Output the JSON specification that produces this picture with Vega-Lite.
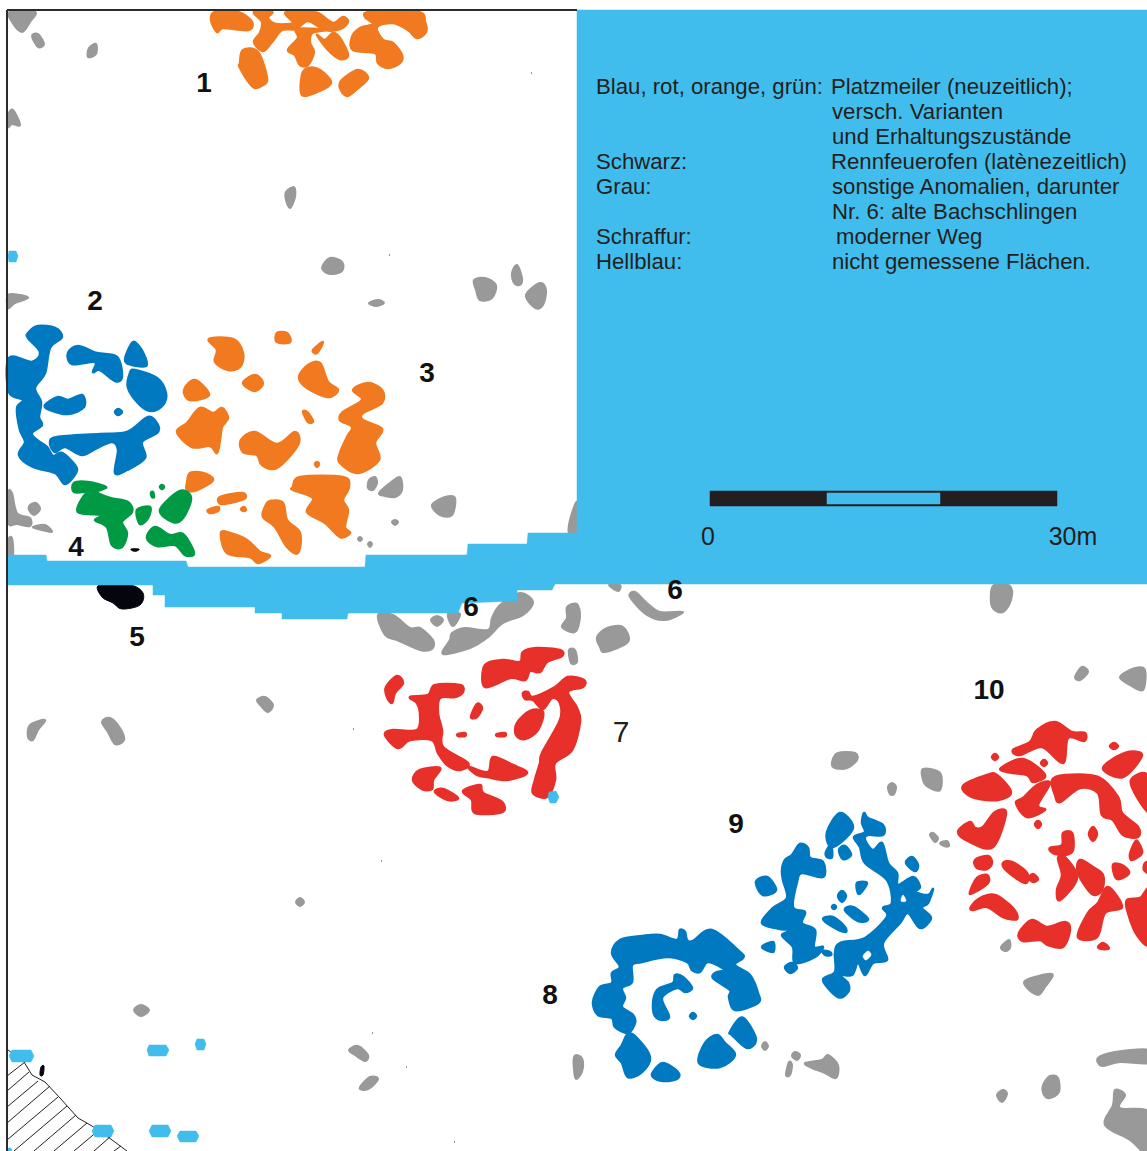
{"$schema":"https://vega.github.io/schema/vega-lite/v6.json","width":1147,"height":1151,"padding":0,"autosize":{"type":"none"},"background":"white","config":{"view":{"stroke":null}},
"encoding":{"x":{"field":"x","type":"quantitative","scale":{"domain":[0,1147],"nice":false,"zero":false},"axis":null},"y":{"field":"y","type":"quantitative","scale":{"domain":[1151,0],"nice":false,"zero":false},"axis":null}},
"layer":[
{"encoding":{"detail":{"field":"s"},"order":{"value":null}},"layer":[
{"data":{"name":"gray"},"mark":{"type":"line","interpolate":"cardinal-closed","tension":0,"fill":"#999999","stroke":"#999999","strokeWidth":2,"strokeJoin":"round"}},
{"data":{"name":"orange"},"mark":{"type":"line","interpolate":"cardinal-closed","tension":0,"fill":"#f17a20","stroke":"#f17a20","strokeWidth":2.5,"strokeJoin":"round"}},
{"data":{"name":"blue"},"mark":{"type":"line","interpolate":"cardinal-closed","tension":0,"fill":"#0079c1","stroke":"#0079c1","strokeWidth":2.5,"strokeJoin":"round"}},
{"data":{"name":"green"},"mark":{"type":"line","interpolate":"cardinal-closed","tension":0,"fill":"#009a44","stroke":"#009a44","strokeWidth":2.5,"strokeJoin":"round"}},
{"data":{"name":"red"},"mark":{"type":"line","interpolate":"cardinal-closed","tension":0,"fill":"#e7302a","stroke":"#e7302a","strokeWidth":2.5,"strokeJoin":"round"}},
{"data":{"name":"black"},"mark":{"type":"line","interpolate":"cardinal-closed","tension":0,"fill":"#05050f","stroke":"#05050f","strokeWidth":1,"strokeJoin":"round"}},
{"data":{"name":"holes"},"mark":{"type":"line","interpolate":"cardinal-closed","tension":0,"fill":"white","stroke":"white","strokeWidth":0.5}},
{"data":{"name":"hatch"},"mark":{"type":"line","stroke":"#222222","strokeWidth":1}},
{"data":{"name":"sky"},"mark":{"type":"line","interpolate":"linear-closed","fill":"#40bdec","stroke":"#40bdec","strokeWidth":0.5}},
{"data":{"name":"bar"},"mark":{"type":"line","interpolate":"linear-closed","fill":"#231f20","stroke":"#231f20","strokeWidth":0.5}},
{"data":{"name":"barInner"},"mark":{"type":"line","interpolate":"linear-closed","fill":"#40bdec","stroke":"#40bdec","strokeWidth":0.5}},
{"data":{"name":"frame"},"mark":{"type":"line","stroke":"#2b2b2b","strokeWidth":2}}
]},
{"data":{"name":"legend"},"mark":{"type":"text","align":"left","baseline":"middle","font":"Liberation Sans","fontSize":22.2,"color":"#231f20"},"encoding":{"text":{"field":"t"}}},
{"data":{"name":"nums"},"mark":{"type":"text","align":"center","baseline":"middle","font":"Liberation Sans","fontWeight":"bold","fontSize":28,"color":"#111111"},"encoding":{"text":{"field":"t"}}},
{"data":{"name":"plain"},"mark":{"type":"text","align":"center","baseline":"middle","font":"Liberation Sans","fontSize":25,"color":"#231f20"},"encoding":{"text":{"field":"t"}}},
{"data":{"name":"seven"},"mark":{"type":"text","align":"center","baseline":"middle","font":"Liberation Sans","fontSize":30,"color":"#231f20"},"encoding":{"text":{"field":"t"}}}
],
"datasets":{
"legend":[{"x":596,"y":87,"t":"Blau, rot, orange, grün:"},{"x":831,"y":87,"t":"Platzmeiler (neuzeitlich);"},{"x":832,"y":112,"t":"versch. Varianten"},{"x":832,"y":137,"t":"und Erhaltungszustände"},{"x":596,"y":162,"t":"Schwarz:"},{"x":831,"y":162,"t":"Rennfeuerofen (latènezeitlich)"},{"x":596,"y":187,"t":"Grau:"},{"x":832,"y":187,"t":"sonstige Anomalien, darunter"},{"x":832,"y":212,"t":"Nr. 6: alte Bachschlingen"},{"x":596,"y":237,"t":"Schraffur:"},{"x":836,"y":237,"t":"moderner Weg"},{"x":596,"y":262,"t":"Hellblau:"},{"x":832,"y":262,"t":"nicht gemessene Flächen."}],
"nums":[{"x":204,"y":84,"t":"1"},{"x":95,"y":302,"t":"2"},{"x":427,"y":374,"t":"3"},{"x":76,"y":548,"t":"4"},{"x":137,"y":638,"t":"5"},{"x":471,"y":608,"t":"6"},{"x":675,"y":591,"t":"6"},{"x":736,"y":825,"t":"9"},{"x":550,"y":996,"t":"8"},{"x":989,"y":691,"t":"10"}],
"plain":[{"x":708,"y":537,"t":"0"},{"x":1073,"y":537,"t":"30m"}],
"seven":[{"x":621,"y":733,"t":"7"}],
"frame":[{"s":1,"x":7,"y":10},{"s":1,"x":7,"y":1151},{"s":2,"x":7,"y":10},{"s":2,"x":577,"y":10}],
"bar":[{"s":1,"x":710,"y":491},{"s":1,"x":1057,"y":491},{"s":1,"x":1057,"y":506},{"s":1,"x":710,"y":506}],
"barInner":[{"s":1,"x":827,"y":493},{"s":1,"x":940,"y":493},{"s":1,"x":940,"y":504},{"s":1,"x":827,"y":504}],
"sky":[{"s":1,"x":577,"y":10},{"s":1,"x":1147,"y":10},{"s":1,"x":1147,"y":584},{"s":1,"x":555,"y":584},{"s":1,"x":552,"y":590},{"s":1,"x":517,"y":590},{"s":1,"x":517,"y":601},{"s":1,"x":462,"y":603},{"s":1,"x":458,"y":613},{"s":1,"x":348,"y":613},{"s":1,"x":347,"y":619},{"s":1,"x":282,"y":619},{"s":1,"x":282,"y":613},{"s":1,"x":255,"y":613},{"s":1,"x":255,"y":607},{"s":1,"x":165,"y":607},{"s":1,"x":165,"y":595},{"s":1,"x":153,"y":595},{"s":1,"x":153,"y":585},{"s":1,"x":7,"y":585},{"s":1,"x":7,"y":555},{"s":1,"x":46,"y":555},{"s":1,"x":47,"y":561},{"s":1,"x":186,"y":561},{"s":1,"x":188,"y":567},{"s":1,"x":365,"y":567},{"s":1,"x":366,"y":555},{"s":1,"x":467,"y":555},{"s":1,"x":468,"y":544},{"s":1,"x":527,"y":544},{"s":1,"x":528,"y":533},{"s":1,"x":577,"y":533},
{"s":2,"x":9,"y":251},{"s":2,"x":16,"y":251},{"s":2,"x":18,"y":256},{"s":2,"x":16,"y":262},{"s":2,"x":9,"y":262},{"s":2,"x":8,"y":256},
{"s":3,"x":549,"y":792},{"s":3,"x":556,"y":791},{"s":3,"x":559,"y":797},{"s":3,"x":556,"y":803},{"s":3,"x":550,"y":803},{"s":3,"x":548,"y":797},
{"s":4,"x":12,"y":1050},{"s":4,"x":31,"y":1050},{"s":4,"x":34,"y":1056},{"s":4,"x":31,"y":1062},{"s":4,"x":12,"y":1062},{"s":4,"x":9,"y":1056},
{"s":5,"x":149,"y":1045},{"s":5,"x":166,"y":1045},{"s":5,"x":169,"y":1050},{"s":5,"x":166,"y":1056},{"s":5,"x":149,"y":1056},{"s":5,"x":147,"y":1050},
{"s":6,"x":197,"y":1039},{"s":6,"x":204,"y":1039},{"s":6,"x":206,"y":1044},{"s":6,"x":204,"y":1050},{"s":6,"x":197,"y":1050},{"s":6,"x":195,"y":1044},
{"s":7,"x":95,"y":1125},{"s":7,"x":111,"y":1125},{"s":7,"x":114,"y":1131},{"s":7,"x":111,"y":1137},{"s":7,"x":95,"y":1137},{"s":7,"x":92,"y":1131},
{"s":8,"x":152,"y":1125},{"s":8,"x":168,"y":1125},{"s":8,"x":171,"y":1131},{"s":8,"x":168,"y":1137},{"s":8,"x":152,"y":1137},{"s":8,"x":149,"y":1131},
{"s":9,"x":180,"y":1131},{"s":9,"x":196,"y":1131},{"s":9,"x":199,"y":1136},{"s":9,"x":196,"y":1142},{"s":9,"x":180,"y":1142},{"s":9,"x":177,"y":1136},
{"s":10,"x":7,"y":1148},{"s":10,"x":11,"y":1148},{"s":10,"x":12,"y":1151},{"s":10,"x":7,"y":1151}],
"hatch":[{"s":0,"x":8,"y":1050},{"s":0,"x":24,"y":1062},{"s":0,"x":32,"y":1075},{"s":0,"x":45,"y":1082},{"s":0,"x":60,"y":1098},{"s":0,"x":78,"y":1118},{"s":0,"x":92,"y":1126},{"s":0,"x":108,"y":1137},{"s":0,"x":127,"y":1151},
{"s":1,"x":7,"y":1076},{"s":1,"x":25,"y":1062},{"s":2,"x":7,"y":1091},{"s":2,"x":29,"y":1072},{"s":3,"x":7,"y":1107},{"s":3,"x":38,"y":1081},{"s":4,"x":7,"y":1123},{"s":4,"x":50,"y":1086},{"s":5,"x":7,"y":1140},{"s":5,"x":58,"y":1097},{"s":6,"x":14,"y":1151},{"s":6,"x":67,"y":1106},{"s":7,"x":34,"y":1151},{"s":7,"x":76,"y":1115},{"s":8,"x":54,"y":1151},{"s":8,"x":87,"y":1123},{"s":9,"x":74,"y":1151},{"s":9,"x":99,"y":1130},{"s":10,"x":94,"y":1151},{"s":10,"x":110,"y":1137},{"s":11,"x":114,"y":1151},{"s":11,"x":121,"y":1146}],
"black":[{"s":1,"x":99,"y":585},{"s":1,"x":130,"y":585},{"s":1,"x":143,"y":593},{"s":1,"x":140,"y":605},{"s":1,"x":122,"y":609},{"s":1,"x":113,"y":603},{"s":1,"x":102,"y":597},
{"s":2,"x":131,"y":549},{"s":2,"x":139,"y":549},{"s":2,"x":137,"y":551},{"s":2,"x":133,"y":551},
{"s":3,"x":40,"y":1075},{"s":3,"x":41,"y":1067},{"s":3,"x":44,"y":1066},{"s":3,"x":43,"y":1075},
{"s":4,"x":531,"y":73},{"s":4,"x":531.5,"y":73},{"s":5,"x":389,"y":255},{"s":5,"x":389.5,"y":255},{"s":6,"x":353,"y":729},{"s":6,"x":353.5,"y":729},{"s":7,"x":381,"y":861},{"s":7,"x":381.5,"y":861},{"s":8,"x":406,"y":1067},{"s":8,"x":406.5,"y":1067},{"s":9,"x":372,"y":1033},{"s":9,"x":372.5,"y":1033},{"s":10,"x":454,"y":1142},{"s":10,"x":454.5,"y":1142}],
"holes":[{"s":1,"x":863,"y":956},{"s":1,"x":868,"y":951},{"s":1,"x":871,"y":955},{"s":1,"x":866,"y":960},
{"s":2,"x":901,"y":901},{"s":2,"x":903,"y":895},{"s":2,"x":906,"y":901}],
"green":[{"s":1,"x":74,"y":483},{"s":1,"x":88,"y":482},{"s":1,"x":106,"y":487},{"s":1,"x":97,"y":492},{"s":1,"x":110,"y":498},{"s":1,"x":128,"y":502},{"s":1,"x":132,"y":512},{"s":1,"x":122,"y":522},{"s":1,"x":127,"y":533},{"s":1,"x":122,"y":547},{"s":1,"x":112,"y":545},{"s":1,"x":107,"y":527},{"s":1,"x":95,"y":520},{"s":1,"x":103,"y":515},{"s":1,"x":78,"y":512},{"s":1,"x":83,"y":497},{"s":1,"x":88,"y":492},{"s":1,"x":74,"y":492},
{"s":2,"x":137,"y":510},{"s":2,"x":150,"y":507},{"s":2,"x":148,"y":518},{"s":2,"x":140,"y":524},
{"s":3,"x":160,"y":510},{"s":3,"x":180,"y":491},{"s":3,"x":191,"y":498},{"s":3,"x":183,"y":518},{"s":3,"x":173,"y":522},
{"s":4,"x":147,"y":538},{"s":4,"x":155,"y":527},{"s":4,"x":170,"y":535},{"s":4,"x":183,"y":534},{"s":4,"x":194,"y":553},{"s":4,"x":185,"y":555},{"s":4,"x":175,"y":545},{"s":4,"x":157,"y":546},
{"s":5,"x":160,"y":487},{"s":5,"x":162,"y":485},{"s":5,"x":164,"y":487},{"s":5,"x":162,"y":489},
{"s":6,"x":151,"y":493},{"s":6,"x":153,"y":492},{"s":6,"x":154,"y":497},{"s":6,"x":152,"y":497}],
"orange":[{"s":1,"x":209,"y":339},{"s":1,"x":233,"y":339},{"s":1,"x":243,"y":353},{"s":1,"x":240,"y":367},{"s":1,"x":228,"y":370},{"s":1,"x":215,"y":362},{"s":1,"x":217,"y":350},
{"s":2,"x":277,"y":342},{"s":2,"x":277,"y":333},{"s":2,"x":287,"y":333},{"s":2,"x":290,"y":342},
{"s":3,"x":313,"y":350},{"s":3,"x":323,"y":342},{"s":3,"x":317,"y":353},
{"s":4,"x":243,"y":383},{"s":4,"x":255,"y":375},{"s":4,"x":263,"y":383},{"s":4,"x":255,"y":391},
{"s":5,"x":299,"y":377},{"s":5,"x":308,"y":365},{"s":5,"x":320,"y":363},{"s":5,"x":328,"y":382},{"s":5,"x":338,"y":390},{"s":5,"x":328,"y":397},{"s":5,"x":307,"y":388},
{"s":6,"x":184,"y":390},{"s":6,"x":195,"y":380},{"s":6,"x":209,"y":395},{"s":6,"x":190,"y":400},
{"s":7,"x":353,"y":390},{"s":7,"x":368,"y":383},{"s":7,"x":382,"y":390},{"s":7,"x":382,"y":403},{"s":7,"x":363,"y":413},{"s":7,"x":363,"y":420},{"s":7,"x":382,"y":429},{"s":7,"x":375,"y":443},{"s":7,"x":379,"y":460},{"s":7,"x":358,"y":473},{"s":7,"x":340,"y":463},{"s":7,"x":340,"y":453},{"s":7,"x":347,"y":437},{"s":7,"x":352,"y":427},{"s":7,"x":340,"y":420},{"s":7,"x":343,"y":412},{"s":7,"x":362,"y":400},
{"s":8,"x":303,"y":412},{"s":8,"x":307,"y":412},{"s":8,"x":313,"y":421},{"s":8,"x":308,"y":422},
{"s":9,"x":177,"y":432},{"s":9,"x":187,"y":423},{"s":9,"x":200,"y":408},{"s":9,"x":213,"y":413},{"s":9,"x":222,"y":408},{"s":9,"x":228,"y":418},{"s":9,"x":222,"y":427},{"s":9,"x":220,"y":440},{"s":9,"x":217,"y":453},{"s":9,"x":210,"y":446},{"s":9,"x":192,"y":447},
{"s":10,"x":241,"y":440},{"s":10,"x":255,"y":432},{"s":10,"x":277,"y":444},{"s":10,"x":295,"y":432},{"s":10,"x":298,"y":445},{"s":10,"x":277,"y":468},{"s":10,"x":262,"y":465},{"s":10,"x":257,"y":455},{"s":10,"x":243,"y":452},
{"s":11,"x":315,"y":464},{"s":11,"x":317,"y":462},{"s":11,"x":319,"y":464},{"s":11,"x":317,"y":467},
{"s":12,"x":187,"y":483},{"s":12,"x":190,"y":473},{"s":12,"x":203,"y":473},{"s":12,"x":213,"y":480},{"s":12,"x":197,"y":490},{"s":12,"x":187,"y":490},
{"s":13,"x":220,"y":497},{"s":13,"x":242,"y":493},{"s":13,"x":244,"y":499},{"s":13,"x":222,"y":504},
{"s":14,"x":208,"y":510},{"s":14,"x":218,"y":507},{"s":14,"x":218,"y":511},{"s":14,"x":210,"y":513},
{"s":15,"x":241,"y":509},{"s":15,"x":244,"y":507},{"s":15,"x":246,"y":510},{"s":15,"x":243,"y":511},
{"s":16,"x":293,"y":487},{"s":16,"x":300,"y":477},{"s":16,"x":343,"y":477},{"s":16,"x":349,"y":487},{"s":16,"x":343,"y":500},{"s":16,"x":348,"y":510},{"s":16,"x":345,"y":527},{"s":16,"x":350,"y":533},{"s":16,"x":340,"y":537},{"s":16,"x":325,"y":523},{"s":16,"x":307,"y":512},{"s":16,"x":313,"y":498},{"s":16,"x":293,"y":490},
{"s":17,"x":265,"y":507},{"s":17,"x":270,"y":501},{"s":17,"x":283,"y":503},{"s":17,"x":287,"y":520},{"s":17,"x":300,"y":533},{"s":17,"x":298,"y":553},{"s":17,"x":287,"y":547},{"s":17,"x":275,"y":527},{"s":17,"x":263,"y":517},
{"s":18,"x":221,"y":533},{"s":18,"x":230,"y":533},{"s":18,"x":247,"y":540},{"s":18,"x":260,"y":552},{"s":18,"x":270,"y":556},{"s":18,"x":258,"y":563},{"s":18,"x":250,"y":557},{"s":18,"x":227,"y":553},
{"s":21,"x":211,"y":20},{"s":21,"x":215,"y":12},{"s":21,"x":238,"y":12},{"s":21,"x":252,"y":22},{"s":21,"x":248,"y":30},{"s":21,"x":223,"y":28},{"s":21,"x":217,"y":32},
{"s":22,"x":254,"y":12},{"s":22,"x":272,"y":12},{"s":22,"x":268,"y":18},{"s":22,"x":276,"y":24},{"s":22,"x":293,"y":23},{"s":22,"x":287,"y":16},{"s":22,"x":287,"y":12},{"s":22,"x":312,"y":12},{"s":22,"x":320,"y":14},{"s":22,"x":333,"y":23},{"s":22,"x":343,"y":17},{"s":22,"x":348,"y":22},{"s":22,"x":340,"y":29},{"s":22,"x":325,"y":30},{"s":22,"x":308,"y":21},{"s":22,"x":296,"y":29},{"s":22,"x":282,"y":30},{"s":22,"x":272,"y":42},{"s":22,"x":263,"y":51},{"s":22,"x":254,"y":42},{"s":22,"x":260,"y":33},{"s":22,"x":262,"y":22},
{"s":23,"x":297,"y":29},{"s":23,"x":325,"y":30},{"s":23,"x":312,"y":33},{"s":23,"x":310,"y":43},{"s":23,"x":314,"y":52},{"s":23,"x":308,"y":65},{"s":23,"x":300,"y":65},{"s":23,"x":295,"y":55},{"s":23,"x":288,"y":50},{"s":23,"x":298,"y":38},
{"s":24,"x":317,"y":35},{"s":24,"x":325,"y":40},{"s":24,"x":333,"y":33},{"s":24,"x":340,"y":38},{"s":24,"x":348,"y":55},{"s":24,"x":340,"y":59},{"s":24,"x":328,"y":50},
{"s":25,"x":365,"y":17},{"s":25,"x":370,"y":12},{"s":25,"x":418,"y":12},{"s":25,"x":425,"y":22},{"s":25,"x":426,"y":32},{"s":25,"x":417,"y":38},{"s":25,"x":408,"y":30},{"s":25,"x":393,"y":23},{"s":25,"x":377,"y":27},{"s":25,"x":383,"y":40},{"s":25,"x":393,"y":43},{"s":25,"x":402,"y":55},{"s":25,"x":400,"y":63},{"s":25,"x":388,"y":68},{"s":25,"x":378,"y":63},{"s":25,"x":375,"y":53},{"s":25,"x":353,"y":50},{"s":25,"x":352,"y":37},{"s":25,"x":360,"y":28},{"s":25,"x":373,"y":24},
{"s":26,"x":240,"y":63},{"s":26,"x":243,"y":50},{"s":26,"x":258,"y":52},{"s":26,"x":267,"y":78},{"s":26,"x":263,"y":85},{"s":26,"x":253,"y":87},{"s":26,"x":240,"y":68},
{"s":27,"x":302,"y":75},{"s":27,"x":308,"y":68},{"s":27,"x":320,"y":70},{"s":27,"x":331,"y":83},{"s":27,"x":317,"y":92},{"s":27,"x":302,"y":95},
{"s":28,"x":342,"y":80},{"s":28,"x":358,"y":70},{"s":28,"x":368,"y":78},{"s":28,"x":358,"y":88},{"s":28,"x":347,"y":96},{"s":28,"x":340,"y":88}],
"blue":[{"s":1,"x":28,"y":333},{"s":1,"x":38,"y":326},{"s":1,"x":55,"y":328},{"s":1,"x":62,"y":337},{"s":1,"x":50,"y":348},{"s":1,"x":45,"y":373},{"s":1,"x":35,"y":388},{"s":1,"x":41,"y":402},{"s":1,"x":39,"y":417},{"s":1,"x":42,"y":425},{"s":1,"x":32,"y":433},{"s":1,"x":37,"y":440},{"s":1,"x":47,"y":447},{"s":1,"x":53,"y":456},{"s":1,"x":62,"y":453},{"s":1,"x":75,"y":465},{"s":1,"x":76,"y":473},{"s":1,"x":65,"y":484},{"s":1,"x":55,"y":473},{"s":1,"x":33,"y":467},{"s":1,"x":19,"y":455},{"s":1,"x":25,"y":442},{"s":1,"x":20,"y":430},{"s":1,"x":17,"y":408},{"s":1,"x":23,"y":400},{"s":1,"x":9,"y":392},{"s":1,"x":9,"y":358},{"s":1,"x":32,"y":362},{"s":1,"x":40,"y":352},{"s":1,"x":28,"y":338},
{"s":2,"x":68,"y":353},{"s":2,"x":78,"y":346},{"s":2,"x":97,"y":353},{"s":2,"x":117,"y":357},{"s":2,"x":122,"y":377},{"s":2,"x":115,"y":381},{"s":2,"x":100,"y":370},{"s":2,"x":93,"y":372},{"s":2,"x":95,"y":362},{"s":2,"x":72,"y":364},
{"s":3,"x":132,"y":343},{"s":3,"x":138,"y":345},{"s":3,"x":145,"y":357},{"s":3,"x":146,"y":366},{"s":3,"x":132,"y":365},{"s":3,"x":125,"y":360},
{"s":4,"x":135,"y":370},{"s":4,"x":157,"y":378},{"s":4,"x":166,"y":393},{"s":4,"x":163,"y":405},{"s":4,"x":152,"y":411},{"s":4,"x":140,"y":405},{"s":4,"x":128,"y":388},{"s":4,"x":130,"y":373},
{"s":5,"x":45,"y":405},{"s":5,"x":58,"y":397},{"s":5,"x":68,"y":400},{"s":5,"x":82,"y":395},{"s":5,"x":84,"y":407},{"s":5,"x":68,"y":414},{"s":5,"x":50,"y":410},
{"s":6,"x":115,"y":412},{"s":6,"x":118,"y":409},{"s":6,"x":122,"y":412},{"s":6,"x":118,"y":415},
{"s":7,"x":50,"y":443},{"s":7,"x":57,"y":437},{"s":7,"x":100,"y":434},{"s":7,"x":127,"y":432},{"s":7,"x":148,"y":417},{"s":7,"x":158,"y":425},{"s":7,"x":157,"y":433},{"s":7,"x":142,"y":442},{"s":7,"x":145,"y":458},{"s":7,"x":127,"y":470},{"s":7,"x":115,"y":473},{"s":7,"x":118,"y":450},{"s":7,"x":112,"y":442},{"s":7,"x":97,"y":448},{"s":7,"x":82,"y":455},{"s":7,"x":65,"y":447},{"s":7,"x":55,"y":452},
{"s":11,"x":827,"y":832},{"s":11,"x":840,"y":813},{"s":11,"x":853,"y":827},{"s":11,"x":840,"y":843},{"s":11,"x":830,"y":846},
{"s":12,"x":826,"y":852},{"s":12,"x":831,"y":845},{"s":12,"x":832,"y":857},{"s":12,"x":827,"y":857},
{"s":13,"x":839,"y":850},{"s":13,"x":845,"y":846},{"s":13,"x":851,"y":855},{"s":13,"x":843,"y":859},
{"s":14,"x":854,"y":837},{"s":14,"x":865,"y":832},{"s":14,"x":862,"y":823},{"s":14,"x":864,"y":813},{"s":14,"x":868,"y":818},{"s":14,"x":883,"y":825},{"s":14,"x":883,"y":835},{"s":14,"x":868,"y":835},{"s":14,"x":865,"y":840},{"s":14,"x":873,"y":850},{"s":14,"x":882,"y":843},{"s":14,"x":888,"y":863},{"s":14,"x":897,"y":873},{"s":14,"x":898,"y":885},{"s":14,"x":913,"y":877},{"s":14,"x":920,"y":887},{"s":14,"x":915,"y":892},{"s":14,"x":928,"y":895},{"s":14,"x":933,"y":889},{"s":14,"x":928,"y":903},{"s":14,"x":922,"y":908},{"s":14,"x":931,"y":918},{"s":14,"x":920,"y":928},{"s":14,"x":908,"y":913},{"s":14,"x":900,"y":923},{"s":14,"x":883,"y":943},{"s":14,"x":887,"y":960},{"s":14,"x":873,"y":963},{"s":14,"x":865,"y":975},{"s":14,"x":858,"y":963},{"s":14,"x":852,"y":975},{"s":14,"x":840,"y":975},{"s":14,"x":848,"y":983},{"s":14,"x":848,"y":992},{"s":14,"x":838,"y":997},{"s":14,"x":823,"y":980},{"s":14,"x":835,"y":972},{"s":14,"x":835,"y":953},{"s":14,"x":840,"y":943},{"s":14,"x":865,"y":938},{"s":14,"x":887,"y":917},{"s":14,"x":883,"y":908},{"s":14,"x":892,"y":903},{"s":14,"x":887,"y":880},{"s":14,"x":865,"y":863},{"s":14,"x":860,"y":847},
{"s":15,"x":782,"y":870},{"s":15,"x":785,"y":860},{"s":15,"x":792,"y":855},{"s":15,"x":800,"y":844},{"s":15,"x":808,"y":848},{"s":15,"x":810,"y":858},{"s":15,"x":823,"y":862},{"s":15,"x":823,"y":877},{"s":15,"x":802,"y":873},{"s":15,"x":797,"y":882},{"s":15,"x":793,"y":907},{"s":15,"x":805,"y":912},{"s":15,"x":802,"y":923},{"s":15,"x":815,"y":930},{"s":15,"x":814,"y":947},{"s":15,"x":823,"y":947},{"s":15,"x":815,"y":957},{"s":15,"x":795,"y":963},{"s":15,"x":793,"y":947},{"s":15,"x":782,"y":935},{"s":15,"x":795,"y":930},{"s":15,"x":780,"y":929},{"s":15,"x":762,"y":923},{"s":15,"x":773,"y":908},{"s":15,"x":787,"y":898},{"s":15,"x":783,"y":880},
{"s":16,"x":756,"y":882},{"s":16,"x":767,"y":877},{"s":16,"x":776,"y":890},{"s":16,"x":763,"y":895},
{"s":17,"x":762,"y":947},{"s":17,"x":773,"y":942},{"s":17,"x":773,"y":952},
{"s":18,"x":785,"y":967},{"s":18,"x":792,"y":963},{"s":18,"x":797,"y":968},{"s":18,"x":790,"y":973},
{"s":19,"x":823,"y":951},{"s":19,"x":830,"y":952},{"s":19,"x":831,"y":955},{"s":19,"x":825,"y":955},
{"s":20,"x":906,"y":863},{"s":20,"x":912,"y":857},{"s":20,"x":918,"y":865},{"s":20,"x":915,"y":871},
{"s":21,"x":857,"y":883},{"s":21,"x":867,"y":883},{"s":21,"x":859,"y":894},
{"s":22,"x":838,"y":896},{"s":22,"x":842,"y":891},{"s":22,"x":846,"y":896},{"s":22,"x":842,"y":902},
{"s":23,"x":832,"y":907},{"s":23,"x":834,"y":905},{"s":23,"x":836,"y":907},{"s":23,"x":834,"y":909},
{"s":24,"x":845,"y":910},{"s":24,"x":853,"y":907},{"s":24,"x":868,"y":919},{"s":24,"x":858,"y":921},
{"s":25,"x":823,"y":919},{"s":25,"x":833,"y":917},{"s":25,"x":845,"y":927},{"s":25,"x":845,"y":932},{"s":25,"x":833,"y":927},
{"s":31,"x":612,"y":953},{"s":31,"x":620,"y":940},{"s":31,"x":642,"y":936},{"s":31,"x":660,"y":935},{"s":31,"x":677,"y":940},{"s":31,"x":680,"y":930},{"s":31,"x":685,"y":932},{"s":31,"x":687,"y":940},{"s":31,"x":693,"y":941},{"s":31,"x":712,"y":930},{"s":31,"x":740,"y":952},{"s":31,"x":743,"y":958},{"s":31,"x":735,"y":965},{"s":31,"x":750,"y":975},{"s":31,"x":758,"y":993},{"s":31,"x":758,"y":1003},{"s":31,"x":735,"y":1010},{"s":31,"x":729,"y":997},{"s":31,"x":730,"y":990},{"s":31,"x":713,"y":978},{"s":31,"x":717,"y":972},{"s":31,"x":725,"y":970},{"s":31,"x":708,"y":962},{"s":31,"x":700,"y":972},{"s":31,"x":692,"y":970},{"s":31,"x":687,"y":962},{"s":31,"x":667,"y":957},{"s":31,"x":642,"y":962},{"s":31,"x":632,"y":965},{"s":31,"x":632,"y":982},{"s":31,"x":622,"y":988},{"s":31,"x":625,"y":998},{"s":31,"x":622,"y":1007},{"s":31,"x":633,"y":1015},{"s":31,"x":635,"y":1023},{"s":31,"x":628,"y":1033},{"s":31,"x":615,"y":1027},{"s":31,"x":612,"y":1018},{"s":31,"x":598,"y":1015},{"s":31,"x":593,"y":1002},{"s":31,"x":600,"y":987},{"s":31,"x":612,"y":983},{"s":31,"x":612,"y":973},{"s":31,"x":620,"y":967},
{"s":32,"x":657,"y":990},{"s":32,"x":673,"y":983},{"s":32,"x":675,"y":975},{"s":32,"x":683,"y":977},{"s":32,"x":692,"y":988},{"s":32,"x":685,"y":992},{"s":32,"x":677,"y":988},{"s":32,"x":662,"y":998},{"s":32,"x":669,"y":1017},{"s":32,"x":658,"y":1019},{"s":32,"x":653,"y":1008},
{"s":33,"x":690,"y":1016},{"s":33,"x":693,"y":1013},{"s":33,"x":696,"y":1016},{"s":33,"x":693,"y":1019},
{"s":34,"x":628,"y":1034},{"s":34,"x":637,"y":1038},{"s":34,"x":650,"y":1057},{"s":34,"x":642,"y":1072},{"s":34,"x":628,"y":1077},{"s":34,"x":622,"y":1063},{"s":34,"x":616,"y":1055},{"s":34,"x":622,"y":1045},
{"s":35,"x":653,"y":1072},{"s":35,"x":663,"y":1063},{"s":35,"x":678,"y":1072},{"s":35,"x":677,"y":1079},{"s":35,"x":663,"y":1081},{"s":35,"x":653,"y":1077},
{"s":36,"x":699,"y":1063},{"s":36,"x":705,"y":1043},{"s":36,"x":717,"y":1035},{"s":36,"x":725,"y":1043},{"s":36,"x":735,"y":1055},{"s":36,"x":720,"y":1067},
{"s":37,"x":730,"y":1032},{"s":37,"x":740,"y":1018},{"s":37,"x":748,"y":1023},{"s":37,"x":756,"y":1040},{"s":37,"x":747,"y":1048},{"s":37,"x":732,"y":1035}],
"red":[{"s":1,"x":485,"y":665},{"s":1,"x":503,"y":660},{"s":1,"x":520,"y":662},{"s":1,"x":523,"y":652},{"s":1,"x":537,"y":648},{"s":1,"x":560,"y":650},{"s":1,"x":562,"y":656},{"s":1,"x":547,"y":662},{"s":1,"x":540,"y":672},{"s":1,"x":530,"y":671},{"s":1,"x":525,"y":680},{"s":1,"x":510,"y":678},{"s":1,"x":485,"y":687},
{"s":2,"x":386,"y":687},{"s":2,"x":397,"y":676},{"s":2,"x":403,"y":683},{"s":2,"x":395,"y":693},{"s":2,"x":392,"y":703},{"s":2,"x":387,"y":697},
{"s":3,"x":410,"y":697},{"s":3,"x":428,"y":695},{"s":3,"x":435,"y":685},{"s":3,"x":460,"y":685},{"s":3,"x":463,"y":692},{"s":3,"x":455,"y":697},{"s":3,"x":440,"y":698},{"s":3,"x":438,"y":713},{"s":3,"x":442,"y":730},{"s":3,"x":443,"y":747},{"s":3,"x":468,"y":763},{"s":3,"x":460,"y":770},{"s":3,"x":447,"y":765},{"s":3,"x":438,"y":753},{"s":3,"x":432,"y":740},{"s":3,"x":410,"y":740},{"s":3,"x":398,"y":748},{"s":3,"x":385,"y":735},{"s":3,"x":393,"y":730},{"s":3,"x":417,"y":730},{"s":3,"x":420,"y":713},{"s":3,"x":417,"y":703},
{"s":4,"x":471,"y":717},{"s":4,"x":477,"y":704},{"s":4,"x":482,"y":708},{"s":4,"x":477,"y":717},
{"s":5,"x":458,"y":734},{"s":5,"x":465,"y":733},{"s":5,"x":465,"y":736},{"s":5,"x":458,"y":736},
{"s":6,"x":497,"y":734},{"s":6,"x":505,"y":733},{"s":6,"x":505,"y":736},{"s":6,"x":497,"y":736},
{"s":7,"x":517,"y":723},{"s":7,"x":530,"y":711},{"s":7,"x":543,"y":712},{"s":7,"x":538,"y":730},{"s":7,"x":525,"y":739},{"s":7,"x":516,"y":735},
{"s":8,"x":523,"y":693},{"s":8,"x":528,"y":692},{"s":8,"x":533,"y":697},{"s":8,"x":555,"y":687},{"s":8,"x":568,"y":677},{"s":8,"x":584,"y":680},{"s":8,"x":583,"y":687},{"s":8,"x":568,"y":692},{"s":8,"x":577,"y":708},{"s":8,"x":580,"y":722},{"s":8,"x":572,"y":750},{"s":8,"x":555,"y":763},{"s":8,"x":555,"y":780},{"s":8,"x":547,"y":797},{"s":8,"x":533,"y":793},{"s":8,"x":535,"y":780},{"s":8,"x":540,"y":763},{"s":8,"x":542,"y":753},{"s":8,"x":560,"y":720},{"s":8,"x":560,"y":703},{"s":8,"x":552,"y":698},{"s":8,"x":543,"y":709},{"s":8,"x":533,"y":700},{"s":8,"x":525,"y":699},
{"s":9,"x":469,"y":767},{"s":9,"x":488,"y":772},{"s":9,"x":493,"y":757},{"s":9,"x":513,"y":765},{"s":9,"x":527,"y":773},{"s":9,"x":507,"y":780},{"s":9,"x":487,"y":777},{"s":9,"x":477,"y":775},
{"s":10,"x":413,"y":780},{"s":10,"x":420,"y":770},{"s":10,"x":440,"y":768},{"s":10,"x":433,"y":780},{"s":10,"x":432,"y":789},{"s":10,"x":422,"y":789},
{"s":11,"x":435,"y":792},{"s":11,"x":443,"y":789},{"s":11,"x":458,"y":798},{"s":11,"x":448,"y":800},
{"s":12,"x":463,"y":791},{"s":12,"x":480,"y":785},{"s":12,"x":483,"y":793},{"s":12,"x":502,"y":802},{"s":12,"x":502,"y":812},{"s":12,"x":475,"y":813},{"s":12,"x":472,"y":800},
{"s":21,"x":1013,"y":750},{"s":21,"x":1030,"y":742},{"s":21,"x":1037,"y":730},{"s":21,"x":1055,"y":722},{"s":21,"x":1072,"y":732},{"s":21,"x":1085,"y":733},{"s":21,"x":1084,"y":741},{"s":21,"x":1068,"y":738},{"s":21,"x":1063,"y":763},{"s":21,"x":1042,"y":747},{"s":21,"x":1020,"y":755},
{"s":22,"x":1103,"y":768},{"s":22,"x":1125,"y":753},{"s":22,"x":1142,"y":755},{"s":22,"x":1123,"y":777},
{"s":23,"x":1110,"y":746},{"s":23,"x":1114,"y":743},{"s":23,"x":1118,"y":746},{"s":23,"x":1114,"y":749},
{"s":24,"x":992,"y":757},{"s":24,"x":995,"y":754},{"s":24,"x":998,"y":757},{"s":24,"x":995,"y":760},
{"s":25,"x":1041,"y":763},{"s":25,"x":1044,"y":760},{"s":25,"x":1047,"y":763},{"s":25,"x":1044,"y":766},
{"s":26,"x":1001,"y":768},{"s":26,"x":1023,"y":759},{"s":26,"x":1045,"y":775},{"s":26,"x":1033,"y":782},{"s":26,"x":1027,"y":775},{"s":26,"x":1007,"y":772},
{"s":27,"x":963,"y":786},{"s":27,"x":987,"y":775},{"s":27,"x":997,"y":775},{"s":27,"x":1011,"y":792},{"s":27,"x":998,"y":800},{"s":27,"x":972,"y":797},
{"s":28,"x":1016,"y":803},{"s":28,"x":1023,"y":798},{"s":28,"x":1037,"y":785},{"s":28,"x":1050,"y":783},{"s":28,"x":1038,"y":805},{"s":28,"x":1045,"y":810},{"s":28,"x":1027,"y":817},
{"s":29,"x":1052,"y":780},{"s":29,"x":1065,"y":775},{"s":29,"x":1098,"y":777},{"s":29,"x":1118,"y":797},{"s":29,"x":1122,"y":813},{"s":29,"x":1138,"y":827},{"s":29,"x":1138,"y":837},{"s":29,"x":1123,"y":835},{"s":29,"x":1113,"y":820},{"s":29,"x":1102,"y":815},{"s":29,"x":1098,"y":793},{"s":29,"x":1080,"y":788},{"s":29,"x":1060,"y":802},{"s":29,"x":1055,"y":795},
{"s":30,"x":1131,"y":780},{"s":30,"x":1147,"y":775},{"s":30,"x":1150,"y":812},{"s":30,"x":1137,"y":797},
{"s":31,"x":958,"y":832},{"s":31,"x":970,"y":822},{"s":31,"x":975,"y":828},{"s":31,"x":983,"y":827},{"s":31,"x":995,"y":812},{"s":31,"x":1006,"y":813},{"s":31,"x":993,"y":847},{"s":31,"x":970,"y":842},
{"s":32,"x":1035,"y":824},{"s":32,"x":1038,"y":821},{"s":32,"x":1041,"y":824},{"s":32,"x":1038,"y":828},
{"s":33,"x":1050,"y":848},{"s":33,"x":1062,"y":845},{"s":33,"x":1063,"y":833},{"s":33,"x":1072,"y":833},{"s":33,"x":1073,"y":850},{"s":33,"x":1065,"y":855},{"s":33,"x":1053,"y":853},
{"s":34,"x":1089,"y":834},{"s":34,"x":1093,"y":827},{"s":34,"x":1097,"y":834},{"s":34,"x":1093,"y":841},
{"s":35,"x":1135,"y":842},{"s":35,"x":1138,"y":842},{"s":35,"x":1142,"y":853},{"s":35,"x":1132,"y":860},{"s":35,"x":1130,"y":854},
{"s":36,"x":975,"y":860},{"s":36,"x":988,"y":856},{"s":36,"x":992,"y":863},{"s":36,"x":987,"y":869},{"s":36,"x":977,"y":868},
{"s":37,"x":1003,"y":863},{"s":37,"x":1012,"y":862},{"s":37,"x":1027,"y":873},{"s":37,"x":1025,"y":883},{"s":37,"x":1007,"y":871},
{"s":38,"x":1029,"y":878},{"s":38,"x":1033,"y":874},{"s":38,"x":1038,"y":879},{"s":38,"x":1033,"y":882},
{"s":39,"x":1058,"y":858},{"s":39,"x":1065,"y":857},{"s":39,"x":1077,"y":878},{"s":39,"x":1060,"y":900},{"s":39,"x":1057,"y":890},{"s":39,"x":1062,"y":875},
{"s":40,"x":1080,"y":860},{"s":40,"x":1093,"y":867},{"s":40,"x":1103,"y":875},{"s":40,"x":1102,"y":890},{"s":40,"x":1092,"y":894},{"s":40,"x":1078,"y":873},
{"s":41,"x":1113,"y":865},{"s":41,"x":1122,"y":865},{"s":41,"x":1129,"y":873},{"s":41,"x":1117,"y":879},
{"s":42,"x":1145,"y":863},{"s":42,"x":1150,"y":863},{"s":42,"x":1150,"y":873},{"s":42,"x":1144,"y":870},
{"s":43,"x":970,"y":892},{"s":43,"x":977,"y":878},{"s":43,"x":987,"y":875},{"s":43,"x":988,"y":883},{"s":43,"x":973,"y":893},
{"s":44,"x":971,"y":907},{"s":44,"x":980,"y":898},{"s":44,"x":995,"y":895},{"s":44,"x":1013,"y":908},{"s":44,"x":1017,"y":919},{"s":44,"x":1003,"y":917},{"s":44,"x":987,"y":907},{"s":44,"x":973,"y":910},
{"s":45,"x":1098,"y":903},{"s":45,"x":1108,"y":887},{"s":45,"x":1122,"y":907},{"s":45,"x":1105,"y":913},{"s":45,"x":1097,"y":937},{"s":45,"x":1078,"y":937},{"s":45,"x":1088,"y":913},
{"s":46,"x":1127,"y":900},{"s":46,"x":1140,"y":898},{"s":46,"x":1150,"y":890},{"s":46,"x":1150,"y":943},{"s":46,"x":1137,"y":935},{"s":46,"x":1128,"y":913},
{"s":47,"x":1019,"y":933},{"s":47,"x":1032,"y":920},{"s":47,"x":1047,"y":927},{"s":47,"x":1065,"y":922},{"s":47,"x":1070,"y":930},{"s":47,"x":1063,"y":947},{"s":47,"x":1048,"y":945},{"s":47,"x":1040,"y":940},{"s":47,"x":1023,"y":941},
{"s":48,"x":1098,"y":947},{"s":48,"x":1103,"y":943},{"s":48,"x":1109,"y":948},{"s":48,"x":1102,"y":949}],
"gray":[{"s":1,"x":10,"y":12},{"s":1,"x":35,"y":12},{"s":1,"x":30,"y":22},{"s":1,"x":22,"y":32},{"s":1,"x":12,"y":22},
{"s":2,"x":32,"y":36},{"s":2,"x":38,"y":34},{"s":2,"x":44,"y":44},{"s":2,"x":38,"y":47},
{"s":3,"x":89,"y":48},{"s":3,"x":96,"y":44},{"s":3,"x":96,"y":54},{"s":3,"x":88,"y":57},
{"s":4,"x":8,"y":115},{"s":4,"x":13,"y":110},{"s":4,"x":20,"y":125},{"s":4,"x":12,"y":124},{"s":4,"x":8,"y":127},
{"s":5,"x":286,"y":192},{"s":5,"x":294,"y":187},{"s":5,"x":295,"y":197},{"s":5,"x":290,"y":208},{"s":5,"x":286,"y":200},
{"s":6,"x":322,"y":268},{"s":6,"x":330,"y":258},{"s":6,"x":342,"y":262},{"s":6,"x":342,"y":271},{"s":6,"x":330,"y":274},
{"s":7,"x":474,"y":280},{"s":7,"x":485,"y":278},{"s":7,"x":496,"y":285},{"s":7,"x":492,"y":298},{"s":7,"x":480,"y":300},{"s":7,"x":476,"y":290},
{"s":8,"x":512,"y":273},{"s":8,"x":517,"y":265},{"s":8,"x":522,"y":278},{"s":8,"x":520,"y":285},{"s":8,"x":514,"y":283},
{"s":9,"x":526,"y":295},{"s":9,"x":540,"y":283},{"s":9,"x":546,"y":290},{"s":9,"x":543,"y":305},{"s":9,"x":535,"y":308},
{"s":10,"x":8,"y":295},{"s":10,"x":20,"y":295},{"s":10,"x":28,"y":298},{"s":10,"x":15,"y":303},{"s":10,"x":8,"y":308},
{"s":11,"x":369,"y":303},{"s":11,"x":378,"y":300},{"s":11,"x":384,"y":303},{"s":11,"x":376,"y":306},
{"s":12,"x":369,"y":480},{"s":12,"x":375,"y":477},{"s":12,"x":377,"y":483},{"s":12,"x":373,"y":490},{"s":12,"x":368,"y":488},
{"s":13,"x":379,"y":493},{"s":13,"x":390,"y":483},{"s":13,"x":400,"y":477},{"s":13,"x":402,"y":490},{"s":13,"x":395,"y":497},{"s":13,"x":385,"y":496},
{"s":14,"x":432,"y":505},{"s":14,"x":445,"y":497},{"s":14,"x":455,"y":498},{"s":14,"x":452,"y":515},{"s":14,"x":440,"y":515},
{"s":15,"x":8,"y":493},{"s":15,"x":12,"y":493},{"s":15,"x":17,"y":513},{"s":15,"x":30,"y":518},{"s":15,"x":30,"y":526},{"s":15,"x":17,"y":524},{"s":15,"x":8,"y":523},
{"s":16,"x":30,"y":505},{"s":16,"x":36,"y":503},{"s":16,"x":40,"y":509},{"s":16,"x":34,"y":515},{"s":16,"x":29,"y":510},
{"s":17,"x":33,"y":527},{"s":17,"x":45,"y":525},{"s":17,"x":52,"y":532},{"s":17,"x":42,"y":530},
{"s":18,"x":8,"y":540},{"s":18,"x":12,"y":538},{"s":18,"x":13,"y":555},{"s":18,"x":8,"y":556},
{"s":19,"x":392,"y":522},{"s":19,"x":395,"y":520},{"s":19,"x":398,"y":522},{"s":19,"x":395,"y":525},
{"s":20,"x":358,"y":539},{"s":20,"x":360,"y":537},{"s":20,"x":362,"y":539},{"s":20,"x":360,"y":541},
{"s":21,"x":368,"y":544},{"s":21,"x":370,"y":542},{"s":21,"x":372,"y":544},{"s":21,"x":370,"y":547},
{"s":22,"x":570,"y":520},{"s":22,"x":577,"y":502},{"s":22,"x":577,"y":533},{"s":22,"x":569,"y":533},
{"s":23,"x":378,"y":615},{"s":23,"x":393,"y":615},{"s":23,"x":410,"y":628},{"s":23,"x":420,"y":628},{"s":23,"x":433,"y":640},{"s":23,"x":432,"y":649},{"s":23,"x":420,"y":650},{"s":23,"x":397,"y":640},{"s":23,"x":385,"y":635},
{"s":24,"x":431,"y":620},{"s":24,"x":437,"y":616},{"s":24,"x":443,"y":620},{"s":24,"x":437,"y":626},
{"s":25,"x":448,"y":614},{"s":25,"x":460,"y":614},{"s":25,"x":453,"y":626},
{"s":26,"x":443,"y":654},{"s":26,"x":450,"y":640},{"s":26,"x":452,"y":633},{"s":26,"x":465,"y":628},{"s":26,"x":488,"y":630},{"s":26,"x":492,"y":618},{"s":26,"x":500,"y":605},{"s":26,"x":520,"y":593},{"s":26,"x":533,"y":602},{"s":26,"x":523,"y":615},{"s":26,"x":503,"y":623},{"s":26,"x":487,"y":638},{"s":26,"x":470,"y":648},
{"s":27,"x":567,"y":607},{"s":27,"x":577,"y":604},{"s":27,"x":580,"y":617},{"s":27,"x":575,"y":632},{"s":27,"x":562,"y":627},{"s":27,"x":567,"y":618},
{"s":28,"x":597,"y":637},{"s":28,"x":607,"y":628},{"s":28,"x":623,"y":627},{"s":28,"x":628,"y":642},{"s":28,"x":605,"y":652},{"s":28,"x":600,"y":647},
{"s":29,"x":569,"y":650},{"s":29,"x":575,"y":650},{"s":29,"x":577,"y":662},{"s":29,"x":571,"y":663},
{"s":30,"x":630,"y":597},{"s":30,"x":635,"y":592},{"s":30,"x":647,"y":603},{"s":30,"x":660,"y":612},{"s":30,"x":683,"y":612},{"s":30,"x":665,"y":620},{"s":30,"x":647,"y":615},
{"s":31,"x":609,"y":585},{"s":31,"x":620,"y":585},{"s":31,"x":618,"y":591},
{"s":32,"x":993,"y":586},{"s":32,"x":1010,"y":586},{"s":32,"x":1011,"y":600},{"s":32,"x":1003,"y":612},{"s":32,"x":992,"y":607},
{"s":33,"x":1075,"y":677},{"s":33,"x":1082,"y":667},{"s":33,"x":1088,"y":672},{"s":33,"x":1080,"y":680},
{"s":34,"x":1120,"y":677},{"s":34,"x":1135,"y":668},{"s":34,"x":1145,"y":670},{"s":34,"x":1143,"y":690},{"s":34,"x":1130,"y":685},
{"s":35,"x":257,"y":700},{"s":35,"x":265,"y":697},{"s":35,"x":273,"y":705},{"s":35,"x":268,"y":712},{"s":35,"x":262,"y":707},
{"s":36,"x":30,"y":725},{"s":36,"x":45,"y":720},{"s":36,"x":38,"y":730},{"s":36,"x":33,"y":740},{"s":36,"x":28,"y":737},
{"s":37,"x":102,"y":722},{"s":37,"x":110,"y":718},{"s":37,"x":120,"y":728},{"s":37,"x":124,"y":740},{"s":37,"x":115,"y":744},{"s":37,"x":108,"y":732},
{"s":38,"x":296,"y":902},{"s":38,"x":300,"y":898},{"s":38,"x":304,"y":902},{"s":38,"x":300,"y":906},
{"s":39,"x":134,"y":1010},{"s":39,"x":141,"y":1005},{"s":39,"x":149,"y":1010},{"s":39,"x":141,"y":1016},
{"s":40,"x":349,"y":1050},{"s":40,"x":358,"y":1046},{"s":40,"x":368,"y":1055},{"s":40,"x":365,"y":1061},{"s":40,"x":355,"y":1055},
{"s":41,"x":360,"y":1087},{"s":41,"x":370,"y":1077},{"s":41,"x":378,"y":1079},{"s":41,"x":370,"y":1088},{"s":41,"x":363,"y":1090},
{"s":42,"x":574,"y":1057},{"s":42,"x":581,"y":1057},{"s":42,"x":583,"y":1067},{"s":42,"x":579,"y":1077},{"s":42,"x":575,"y":1077},
{"s":43,"x":795,"y":1052},{"s":43,"x":800,"y":1055},{"s":43,"x":797,"y":1060},{"s":43,"x":792,"y":1056},
{"s":44,"x":786,"y":1075},{"s":44,"x":789,"y":1062},{"s":44,"x":792,"y":1065},{"s":44,"x":790,"y":1075},
{"s":45,"x":805,"y":1063},{"s":45,"x":822,"y":1060},{"s":45,"x":828,"y":1055},{"s":45,"x":838,"y":1065},{"s":45,"x":836,"y":1078},{"s":45,"x":825,"y":1073},{"s":45,"x":812,"y":1068},
{"s":46,"x":762,"y":1046},{"s":46,"x":765,"y":1042},{"s":46,"x":768,"y":1046},{"s":46,"x":765,"y":1050},
{"s":47,"x":997,"y":1095},{"s":47,"x":1003,"y":1090},{"s":47,"x":1007,"y":1094},{"s":47,"x":1002,"y":1102},
{"s":48,"x":1043,"y":1085},{"s":48,"x":1050,"y":1076},{"s":48,"x":1058,"y":1078},{"s":48,"x":1059,"y":1092},{"s":48,"x":1050,"y":1098},{"s":48,"x":1044,"y":1095},
{"s":49,"x":1098,"y":1058},{"s":49,"x":1115,"y":1052},{"s":49,"x":1150,"y":1050},{"s":49,"x":1150,"y":1063},{"s":49,"x":1120,"y":1062},{"s":49,"x":1102,"y":1066},
{"s":50,"x":1115,"y":1090},{"s":50,"x":1125,"y":1095},{"s":50,"x":1120,"y":1108},{"s":50,"x":1150,"y":1113},{"s":50,"x":1150,"y":1155},{"s":50,"x":1130,"y":1140},{"s":50,"x":1105,"y":1125},{"s":50,"x":1113,"y":1105},
{"s":51,"x":832,"y":762},{"s":51,"x":838,"y":753},{"s":51,"x":855,"y":753},{"s":51,"x":857,"y":760},{"s":51,"x":847,"y":768},{"s":51,"x":835,"y":768},
{"s":52,"x":923,"y":769},{"s":52,"x":940,"y":773},{"s":52,"x":940,"y":790},{"s":52,"x":928,"y":787},{"s":52,"x":923,"y":780},
{"s":53,"x":888,"y":787},{"s":53,"x":892,"y":783},{"s":53,"x":896,"y":787},{"s":53,"x":894,"y":794},{"s":53,"x":890,"y":794},
{"s":54,"x":930,"y":835},{"s":54,"x":933,"y":833},{"s":54,"x":938,"y":838},{"s":54,"x":935,"y":842},
{"s":55,"x":940,"y":843},{"s":55,"x":947,"y":841},{"s":55,"x":949,"y":846},{"s":55,"x":944,"y":846},
{"s":56,"x":1001,"y":947},{"s":56,"x":1009,"y":940},{"s":56,"x":1010,"y":948},{"s":56,"x":1005,"y":951},
{"s":57,"x":1026,"y":980},{"s":57,"x":1052,"y":974},{"s":57,"x":1045,"y":987},{"s":57,"x":1038,"y":995},{"s":57,"x":1027,"y":988}]
}}
